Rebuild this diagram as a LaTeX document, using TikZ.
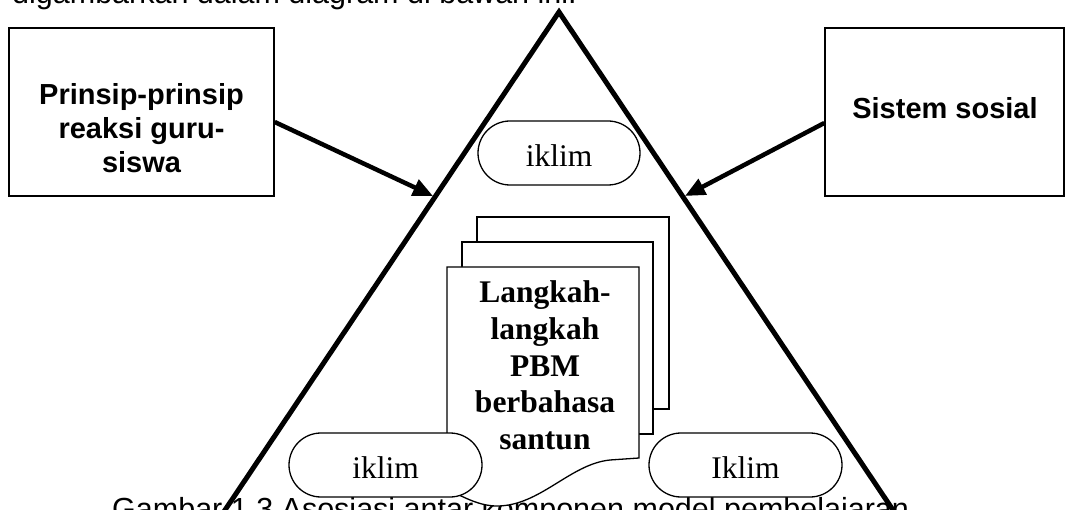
\documentclass[tikz,border=0pt]{standalone}
\usepackage{fontspec}
\setmainfont{Liberation Serif}
\newfontfamily\arialfont{Liberation Sans}
\usetikzlibrary{shapes.misc,arrows.meta,calc}

\begin{document}
\begin{tikzpicture}[x=1pt,y=-1pt,
  boxframe/.style={draw,line width=1.4pt,inner sep=0pt},
  pill/.style={rounded rectangle,draw,fill=white,line width=1.3pt,
    minimum height=64pt,inner sep=0pt,
    font=\fontsize{31.5}{36}\selectfont,text height=27pt,text depth=0pt},
  page/.style={draw,fill=white,line width=1.3pt,line join=miter},
  triside/.style={line width=5pt,line join=miter},
  push/.style={line width=4.5pt,-{Triangle[length=20pt,width=17pt]}},
  sanslabel/.style={font=\arialfont\bfseries\fontsize{29}{33.8}\selectfont,
    align=center,inner sep=0pt},
  plainsans/.style={font=\arialfont\fontsize{30.5}{35}\selectfont,inner sep=0pt},
  seriflabel/.style={font=\bfseries\fontsize{31.5}{36.8}\selectfont,
    align=center,inner sep=0pt}]

\useasboundingbox (0,0) rectangle (1065,510);
\clip (0,0) rectangle (1065,510);

% running text above and caption below
\node[plainsans,anchor=base west] (intro) at (12,4) {digambarkan dalam diagram di bawah ini.};
\node[plainsans,anchor=base west] (caption) at (112,519) {Gambar 1.3 Asosiasi antar komponen model pembelajaran};

% the large triangle
\coordinate (apex) at (559,12);
\coordinate (footL) at (217,522);
\coordinate (footR) at (901,522);
\draw[triside] (footL) -- (apex) -- (footR);

% side boxes
\node[boxframe,minimum width=265pt,minimum height=168pt] (lbox) at (141.5,112) {};
\node[sanslabel] (ltext) at (141.5,128) {Prinsip-prinsip\\reaksi guru-\\siswa};
\node[boxframe,minimum width=239pt,minimum height=168pt] (rbox) at (944.5,112) {};
\node[sanslabel,anchor=base] (rtext) at (945,119) {Sistem sosial};

% arrows onto the triangle sides
\coordinate (hitL) at (433,196);
\coordinate (hitR) at (685,196);
\draw[push] ($(lbox.east)+(0,10)$) -- (hitL);
\draw[push] ($(rbox.west)+(0,11)$) -- (hitR);

% stacked document pages
\draw[page] (477,217) rectangle (669,409);
\draw[page] (462,242) rectangle (653,434);
\draw[page] (447,267) -- (639,267) -- (639,458) -- (610,460)
  .. controls (570,464) and (540,506) .. (497,506)
  .. controls (480,506) and (465,498) .. (447,489) -- cycle;
\node[seriflabel] (steps) at (545,365.4) {Langkah-\\langkah\\PBM\\berbahasa\\santun};

% climate pills
\node[pill,minimum width=162pt] (climTop) at (559,153) {iklim};
\node[pill,minimum width=193pt] (climL) at (385.5,465) {iklim};
\node[pill,minimum width=193pt] (climR) at (745.5,465) {Iklim};

\end{tikzpicture}
\end{document}
